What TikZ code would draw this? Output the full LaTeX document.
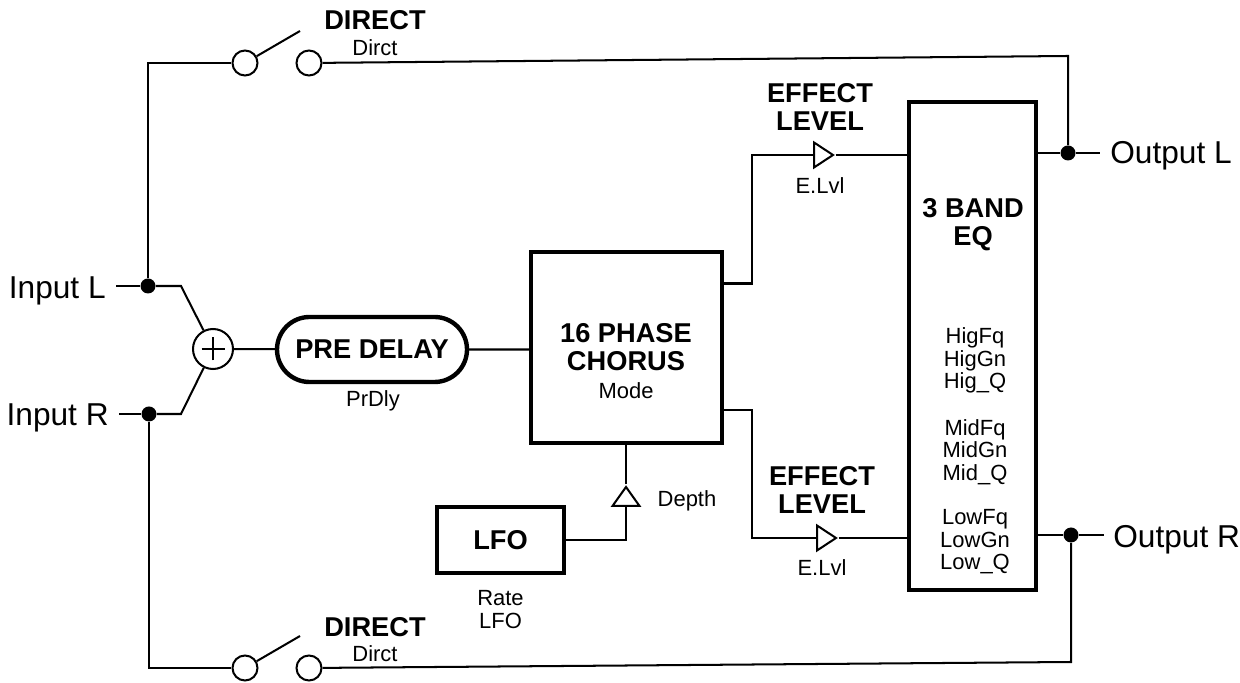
\documentclass[tikz,border=0pt]{standalone}
\usepackage{fontspec}
\setmainfont{Liberation Sans}
\usetikzlibrary{positioning,calc,shapes.geometric,shapes.misc}
\tikzset{
  wire/.style={line width=1.15pt},
  thickbox/.style={draw,line width=2.5pt,inner sep=0pt},
  swcirc/.style={draw,circle,line width=1.15pt,minimum size=.5cm,inner sep=0pt},
  jdot/.style={circle,fill=black,minimum size=.3cm,inner sep=0pt},
  amp/.style={draw,isosceles triangle,isosceles triangle stretches,line width=1.15pt,minimum height=.38cm,minimum width=.5cm,inner sep=0pt,anchor=lower side},
  iolbl/.style={font=\fontsize{18}{20}\selectfont,inner sep=0pt},
  headlbl/.style={font=\fontsize{15.5}{16}\selectfont\bfseries,align=center,inner sep=0pt},
  parlbl/.style={font=\fontsize{12.5}{12.8}\selectfont,align=center,inner sep=0pt}
}
\begin{document}
\begin{tikzpicture}
\useasboundingbox (0,0) rectangle (24.8,13.66);
\node[iolbl,anchor=east] (inl) at (2.12,7.84) {Input L};
\node[iolbl,anchor=east] (inr) at (2.18,5.3) {Input R};
\node[jdot] (dl) at (2.96,7.94) {};
\node[jdot] (dr) at (2.98,5.38) {};
\node[swcirc,minimum size=.8cm] (sum) at (4.26,6.68) {};
\draw[wire] ([xshift=-.23cm]sum.center) -- ([xshift=.23cm]sum.center);
\draw[wire] ([yshift=-.23cm]sum.center) -- ([yshift=.23cm]sum.center);
\node[thickbox,rounded rectangle,minimum width=3.8cm,minimum height=1.3cm,font=\fontsize{15.5}{16}\selectfont\bfseries] (pd) at (7.44,6.67) {PRE DELAY};
\node[parlbl] (pdl) at (7.46,5.64) {PrDly};
\node[thickbox,minimum width=3.82cm,minimum height=3.82cm] (cho) at (12.53,6.71) {};
\node[headlbl] (chol) at (12.52,6.72) {16 PHASE\\CHORUS};
\node[parlbl] (mode) at (12.52,5.84) {Mode};
\node[thickbox,minimum width=2.54cm,minimum height=1.32cm,font=\fontsize{15.5}{16}\selectfont\bfseries] (lfo) at (10.01,2.86) {LFO};
\node[parlbl] (rate) at (10.01,1.47) {Rate\\LFO};
\node[amp,shape border rotate=90,minimum width=.54cm] (dep) at (12.52,3.52) {};
\node[parlbl] (depl) at (13.74,3.64) {Depth};
\node[thickbox,minimum width=2.54cm,minimum height=9.76cm] (eq) at (19.45,6.74) {};
\node[headlbl] (eql) at (19.46,9.16) {3 BAND\\EQ};
\node[parlbl] (hig) at (19.5,6.45) {HigFq\\HigGn\\Hig\_Q};
\node[parlbl] (mid) at (19.5,4.62) {MidFq\\MidGn\\Mid\_Q};
\node[parlbl] (low) at (19.5,2.82) {LowFq\\LowGn\\Low\_Q};
\node[amp] (ampu) at (16.26,10.56) {};
\node[amp] (ampd) at (16.32,2.9) {};
\node[headlbl] (efu) at (16.4,11.52) {EFFECT\\LEVEL};
\node[parlbl] (lvu) at (16.4,9.94) {E.Lvl};
\node[headlbl] (efd) at (16.44,3.86) {EFFECT\\LEVEL};
\node[parlbl] (lvd) at (16.44,2.3) {E.Lvl};
\node[jdot] (ol) at (21.36,10.6) {};
\node[jdot] (or) at (21.42,2.96) {};
\node[iolbl,anchor=west] (outl) at (22.2,10.54) {Output L};
\node[iolbl,anchor=west] (outr) at (22.26,2.86) {Output R};
\node[swcirc] (swa) at (4.9,12.4) {};
\node[swcirc] (swb) at (6.18,12.4) {};
\node[swcirc] (swc) at (4.9,.3) {};
\node[swcirc] (swd) at (6.18,.3) {};
\node[headlbl] (dira) at (7.5,13.26) {DIRECT};
\node[parlbl] (dcta) at (7.5,12.7) {Dirct};
\node[headlbl] (dirb) at (7.5,1.12) {DIRECT};
\node[parlbl] (dctb) at (7.5,.58) {Dirct};
\coordinate (bla) at (6,13.04);
\coordinate (blb) at (6,.94);
\coordinate (tl) at (2.96,12.4);
\coordinate (tr) at (21.36,12.54);
\coordinate (bl) at (2.98,.3);
\coordinate (br) at (21.42,.42);
\coordinate (sa) at (3.62,7.94);
\coordinate (sb) at (3.62,5.38);
\coordinate (cu) at (15.04,10.56);
\coordinate (cd) at (15.04,2.9);
\coordinate (lc) at (12.52,2.86);
\draw[wire] ([xshift=2mm]inl.east|-dl) -- (dl);
\draw[wire] ([xshift=2mm]inr.east|-dr) -- (dr);
\draw[wire] (dl) -- (sa) -- (sum);
\draw[wire] (dr) -- (sb) -- (sum);
\draw[wire] (sum) -- (pd);
\draw[wire] (pd) -- (pd-|cho.west);
\draw[wire] (dl) -- (tl) -- (swa);
\draw[wire] (swa) -- (bla);
\draw[wire] (swb) -- (tr) -- (ol);
\draw[wire] (dr) -- (bl) -- (swc);
\draw[wire] (swc) -- (blb);
\draw[wire] (swd) -- (br) -- (or);
\draw[wire] (cho.east|-0,7.99) -- (15.04,7.99) -- (cu) -- (ampu.lower side);
\draw[wire] (cho.east|-0,5.46) -- (15.04,5.46) -- (cd) -- (ampd.lower side);
\draw[wire] (ampu.apex) -- (ampu.apex-|eq.west);
\draw[wire] (ampd.apex) -- (ampd.apex-|eq.west);
\draw[wire] (ol-|eq.east) -- (ol);
\draw[wire] (or-|eq.east) -- (or);
\draw[wire] (ol) -- (22,10.6);
\draw[wire] (or) -- (22.08,2.96);
\draw[wire] (lfo) -- (lc) -- (dep.lower side);
\draw[wire] (dep.apex) -- (dep.apex|-cho.south);
\end{tikzpicture}
\end{document}
